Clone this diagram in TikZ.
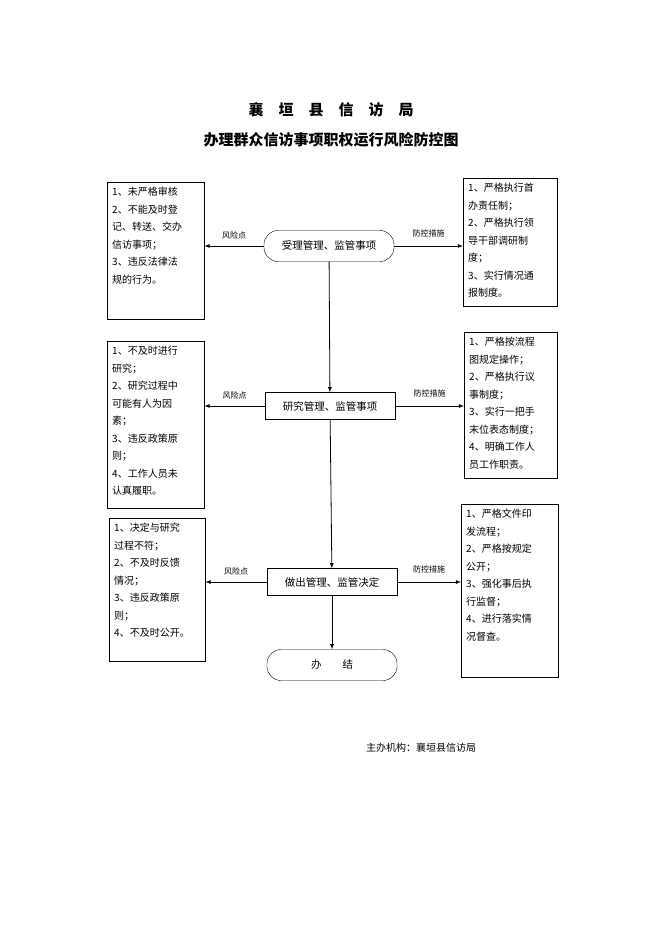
\documentclass[tikz,border=0pt]{standalone}
\usepackage{fontspec}
\setmainfont{Liberation Serif}
\newfontfamily\cjk{Noto Sans CJK SC}
\usetikzlibrary{positioning}
\tikzset{
  stepnode/.style={draw, minimum width=130pt, minimum height=27pt, font=\cjk\fontsize{10.5}{12}\selectfont},
  endnode/.style={stepnode, rounded corners=14pt, minimum height=31pt},
  listbox/.style={draw, anchor=north west, inner sep=5pt, align=left, font=\cjk\fontsize{10}{17.5}\selectfont},
  tag/.style={font=\cjk\fontsize{8}{10}\selectfont},
  flow/.style={->, >=latex, thick}
}
\newcommand{\boxtext}[3]{\parbox[t][#2][t]{#1}{\raggedright #3}}
\begin{document}
\begin{tikzpicture}[x=1pt, y=-1pt]
  \useasboundingbox (0,0) rectangle (662,936);
  % title
  \node (t1) at (331,110) {\cjk\bfseries\fontsize{15}{18}\selectfont 襄\quad 垣\quad 县\quad 信\quad 访\quad 局};
  \node (t2) at (331,140) {\cjk\bfseries\fontsize{15}{18}\selectfont 办理群众信访事项职权运行风险防控图};
  % main steps
  \node[endnode]  (a) at (329,246) {受理管理、监管事项};
  \node[stepnode] (b) at (330,406) {研究管理、监管事项};
  \node[stepnode] (c) at (332,582) {做出管理、监管决定};
  \node[endnode]  (d) at (332,665) {办\qquad 结};
  % risk boxes
  \node[listbox] (r1) at (107,182) {\boxtext{87pt}{127pt}{1、未严格审核\\2、不能及时登\\记、转送、交办\\信访事项；\\3、违反法律法\\规的行为。}};
  \node[listbox] (r2) at (107,341) {\boxtext{87pt}{157pt}{1、不及时进行\\研究；\\2、研究过程中\\可能有人为因\\素；\\3、违反政策原\\则；\\4、工作人员未\\认真履职。}};
  \node[listbox] (r3) at (109,518) {\boxtext{86pt}{133pt}{1、决定与研究\\过程不符；\\2、不及时反馈\\情况；\\3、违反政策原\\则；\\4、不及时公开。}};
  % control boxes
  \node[listbox] (m1) at (463,178) {\boxtext{84pt}{118pt}{1、严格执行首\\办责任制；\\2、严格执行领\\导干部调研制\\度；\\3、实行情况通\\报制度。}};
  \node[listbox] (m2) at (464,332) {\boxtext{83pt}{136pt}{1、严格按流程\\图规定操作；\\2、严格执行议\\事制度；\\3、实行一把手\\末位表态制度；\\4、明确工作人\\员工作职责。}};
  \node[listbox] (m3) at (461,504) {\boxtext{87pt}{163pt}{1、严格文件印\\发流程；\\2、严格按规定\\公开；\\3、强化事后执\\行监督；\\4、进行落实情\\况督查。}};
  % connectors
  \draw[flow] (a) -- (b);
  \draw[flow] (b) -- (c);
  \draw[flow] (c) -- (d);
  \draw[flow] (a.west) -- (r1.east |- a.west) node[tag, midway, above=3pt] {风险点};
  \draw[flow] (b.west) -- (r2.east |- b.west) node[tag, midway, above=3pt] {风险点};
  \draw[flow] (c.west) -- (r3.east |- c.west) node[tag, midway, above=3pt] {风险点};
  \draw[flow] (a.east) -- (m1.west |- a.east) node[tag, midway, above=5pt] {防控措施};
  \draw[flow] (b.east) -- (m2.west |- b.east) node[tag, midway, above=5pt] {防控措施};
  \draw[flow] (c.east) -- (m3.west |- c.east) node[tag, midway, above=5pt] {防控措施};
  % footer
  \node[font=\cjk\fontsize{10}{12}\selectfont] (f) at (421,748) {主办机构：襄垣县信访局};
\end{tikzpicture}
\end{document}
